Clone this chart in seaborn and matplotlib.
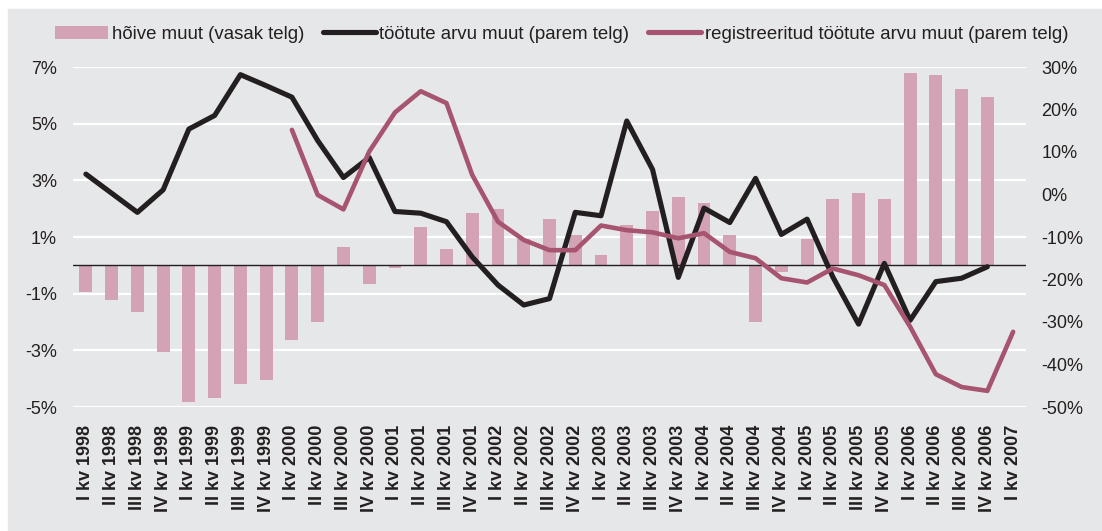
import matplotlib
matplotlib.use("Agg")
import matplotlib.pyplot as plt
import numpy as np
import pandas as pd
import seaborn as sns
from matplotlib.lines import Line2D
from matplotlib.patches import Patch, Rectangle

# kvartalid
roman = ["I", "II", "III", "IV"]
quarters = [f"{roman[i % 4]} kv {1998 + i // 4}" for i in range(37)]

# hõive muut, % (vasak telg)
hoive = [-0.95, -1.23, -1.65, -3.07, -4.83, -4.69, -4.2, -4.06, -2.64, -2.0,
         0.64, -0.66, -0.08, 1.34, 0.57, 1.84, 1.98, 0.92, 1.63, 1.06,
         0.35, 1.42, 1.91, 2.4, 2.19, 1.06, -2.0, -0.24, 0.92, 2.33,
         2.55, 2.33, 6.79, 6.72, 6.23, 5.94, np.nan]

# töötute arvu muut, % (parem telg)
tootud = [4.8, 0.3, -4.2, 1.1, 15.4, 18.6, 28.2, 25.6, 22.9, 12.7,
          4.0, 8.7, -4.0, -4.4, -6.4, -14.7, -21.3, -26.0, -24.5, -4.2,
          -5.0, 17.3, 5.9, -19.5, -3.2, -6.6, 3.8, -9.4, -5.8, -19.4,
          -30.5, -16.2, -29.6, -20.5, -19.7, -17.0, np.nan]

# registreeritud töötute arvu muut, % (parem telg)
registreeritud = [np.nan] * 8 + [
    15.2, -0.1, -3.5, 10.1, 19.3, 24.3, 21.5, 4.6, -6.4, -10.7,
    -13.1, -13.1, -7.3, -8.4, -8.9, -10.3, -9.1, -13.5, -15.0, -19.7,
    -20.7, -17.4, -19.0, -21.3, -31.1, -42.3, -45.3, -46.2, -32.3]

left_ticks = [7, 5, 3, 1, -1, -3, -5]
right_ticks = [30, 20, 10, 0, -10, -20, -30, -40, -50]

bg = "#e6e7e8"
pink = "#d4a2b5"
black = "#231f20"
magenta = "#a6546f"

sns.set_theme(style="white")
plt.rcParams["font.family"] = ["Liberation Sans", "DejaVu Sans"]

df = pd.DataFrame({"kv": quarters, "hoive": hoive, "tootud": tootud,
                   "reg": registreeritud})
x = np.arange(len(quarters))

fig = plt.figure(figsize=(11.02, 5.31), dpi=100, facecolor="white")
# hall taust, valge ääris üleval ja vasakul
fig.patches.append(Rectangle((8 / 1102, 0), 1 - 8 / 1102, 1 - 9 / 531,
                             transform=fig.transFigure, color=bg, zorder=-10))
ax = fig.add_axes([73 / 1102, 1 - 407 / 531, 953 / 1102, 340 / 531])
ax.set_facecolor(bg)
for s in ax.spines.values():
    s.set_visible(False)

sns.barplot(data=df, x="kv", y="hoive", color=pink, width=0.5,
            saturation=1, linewidth=0, edgecolor="none", ax=ax, zorder=2)
ax.set_ylim(-5, 7)
ax.set_xlim(-0.5, 36.5)
ax.set_yticks(left_ticks)
ax.set_yticklabels([f"{v}%" for v in left_ticks])
for v in left_ticks:
    ax.axhline(v, color="white", lw=1.6, zorder=1)
ax.axhline(0, color=black, lw=1.0, zorder=4)
ax.set_xlabel("")
ax.set_ylabel("")
ax.tick_params(axis="y", length=0, pad=11.5, labelsize=13, colors=black)
ax.tick_params(axis="x", length=0, pad=13)
ax.set_xticks(x)
ax.set_xticklabels(quarters, rotation=90, fontsize=13, fontweight="bold",
                   color=black)

ax2 = ax.twinx()
for s in ax2.spines.values():
    s.set_visible(False)
sns.lineplot(x=x, y=df["tootud"], color=black, lw=3.7, ax=ax2, zorder=3)
sns.lineplot(x=x, y=df["reg"], color=magenta, lw=3.3, ax=ax2, zorder=3)
ax2.set_ylim(-50, 30)
ax2.set_yticks(right_ticks)
ax2.set_yticklabels([f"{v}%" for v in right_ticks])
ax2.tick_params(axis="y", length=0, pad=11, labelsize=13, colors=black)
ax2.set_ylabel("")
ax2.grid(False)

handles = [Patch(facecolor=pink, edgecolor="none"),
           Line2D([0], [0], color=black, lw=3.7),
           Line2D([0], [0], color=magenta, lw=3.7)]
labels = ["hõive muut (vasak telg)", "töötute arvu muut (parem telg)",
          "registreeritud töötute arvu muut (parem telg)"]
fig.legend(handles, labels, loc="center",
           bbox_to_anchor=(561.5 / 1102, 1 - 34.5 / 531),
           ncol=3, frameon=False, fontsize=13.4, handlelength=2.85,
           handleheight=0.7, handletextpad=0.2, columnspacing=1.0,
           labelcolor=black)

fig.savefig("out.png", dpi=100, facecolor=fig.get_facecolor())
